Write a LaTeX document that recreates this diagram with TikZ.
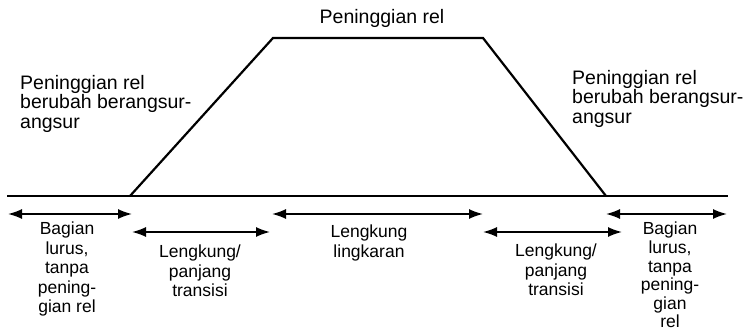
\documentclass[tikz,border=0pt]{standalone}
\usepackage{fontspec}
\setmainfont{Liberation Sans}
\usetikzlibrary{arrows.meta}
\begin{document}
\begin{tikzpicture}[x=1pt,y=1pt,
  ground/.style={line width=2.8pt},
  slope/.style={line width=2.2pt, line join=miter},
  dim/.style={line width=1.6pt, {Latex[length=14pt,width=10pt]}-{Latex[length=14pt,width=10pt]}},
  biglbl/.style={font=\fontsize{19.5}{19.5}\selectfont, align=left, inner sep=0},
  lbl/.style={font=\fontsize{17.5}{19.5}\selectfont, align=center, inner sep=0, anchor=north}]
\useasboundingbox (0,0) rectangle (755,-336);
% ground and trapezoid
\coordinate (L0) at (7,-196);
\coordinate (R0) at (728,-196);
\coordinate (A) at (130,-196);
\coordinate (B) at (273,-38);
\coordinate (C) at (483,-38);
\coordinate (D) at (606,-196);
\draw[ground] (L0) -- (R0);
\draw[slope] (A) -- (B) -- (C) -- (D);
% dimension arrows
\coordinate (a1s) at (8,-214);   \coordinate (a1e) at (132,-214);
\coordinate (a2s) at (272,-214); \coordinate (a2e) at (483,-214);
\coordinate (a3s) at (606,-214); \coordinate (a3e) at (727,-214);
\coordinate (b1s) at (132,-232); \coordinate (b1e) at (270,-232);
\coordinate (b2s) at (483,-232); \coordinate (b2e) at (622,-232);
\draw[dim] (a1s) -- (a1e);
\draw[dim] (a2s) -- (a2e);
\draw[dim] (a3s) -- (a3e);
\draw[dim] (b1s) -- (b1e);
\draw[dim] (b2s) -- (b2e);
% labels
\node[biglbl] (top) at (382,-18) {Peninggian rel};
\node[biglbl, anchor=north west] (ltxt) at (20,-75) {Peninggian rel\\berubah berangsur-\\angsur};
\node[biglbl, anchor=north west] (rtxt) at (572,-70) {Peninggian rel\\berubah berangsur-\\angsur};
\node[lbl] (s1) at (67,-222) {Bagian\\lurus,\\tanpa\\pening-\\gian rel};
\node[lbl] (s2) at (200,-245) {Lengkung/\\panjang\\transisi};
\node[lbl] (s3) at (369,-225) {Lengkung\\lingkaran};
\node[lbl] (s4) at (556,-244) {Lengkung/\\panjang\\transisi};
\node[lbl, font=\fontsize{17.5}{18.6}\selectfont] (s5) at (670,-222) {Bagian\\lurus,\\tanpa\\pening-\\gian\\rel};
\end{tikzpicture}
\end{document}
